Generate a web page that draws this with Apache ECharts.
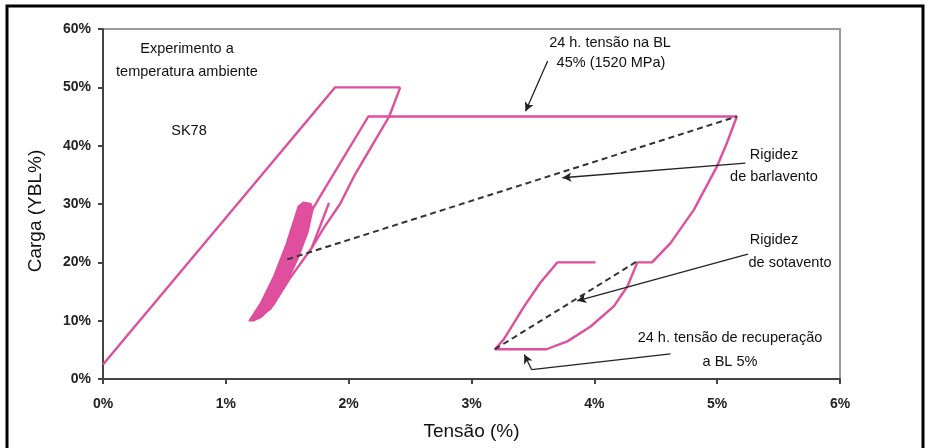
<!DOCTYPE html>
<html>
<head>
<meta charset="utf-8">
<script src="https://cdn.jsdelivr.net/npm/echarts@6/dist/echarts.min.js"></script>
<style>
  html, body { margin: 0; padding: 0; background: #fff; }
  #chart { width: 929px; height: 448px; }
</style>
</head>
<body>
<div id="chart"></div>
<script>
// ---- data (strain %, load %) ----
var xTicks = [0, 1, 2, 3, 4, 5, 6];
var yTicks = [0, 10, 20, 30, 40, 50, 60];

// first loading to 50% and hold
var firstLoad = [[0, 2.5], [1.89, 50], [2.42, 50]];
// unloading from 50% down to 10%
var firstUnload = [[2.42, 50], [2.33, 45], [2.19, 40], [2.05, 35], [1.93, 30],
                   [1.80, 26], [1.70, 22.5], [1.52, 17.2], [1.36, 12.0], [1.22, 10.2]];
// cycling 10% - 30% (dense loops, drawn as a filled outline)
var cycleBand = [[1.19, 10.0], [1.28, 12.9], [1.39, 17.6], [1.49, 23], [1.56, 27.6],
                 [1.59, 29.6], [1.63, 30.3], [1.69, 30.1], [1.71, 29.2], [1.67, 25.3],
                 [1.59, 20.8], [1.49, 16.2], [1.39, 12.7], [1.29, 10.6], [1.23, 10.0]];
// last short cycle up to 30%
var lastCycle = [[1.70, 22.5], [1.84, 30.2]];
// reload to 45%, 24 h hold, unload, recovery at 5%, reload to 20%
var reload = [[1.69, 28.5], [1.77, 31.4], [2.16, 45], [5.16, 45], [5.08, 40.5],
              [5.00, 36.5], [4.81, 29], [4.62, 23.3], [4.47, 20], [4.35, 20],
              [4.27, 15.9], [4.16, 12.5], [3.97, 9.0], [3.78, 6.45], [3.61, 5.1],
              [3.19, 5.1], [3.26, 6.7], [3.43, 12.5], [3.56, 16.5], [3.70, 20], [4.01, 20]];
// stiffness lines
var windward = [[1.50, 20.5], [5.16, 45]];
var leeward = [[3.19, 5.1], [4.35, 20.2]];
// annotation arrows (tail ... head)
var arrows = [
    [[3.62, 54.5], [3.44, 45.9]],
    [[5.23, 37.0], [3.74, 34.5]],
    [[5.25, 21.4], [3.86, 13.4]],
    [[4.62, 4.3], [3.49, 1.6], [3.43, 4.2]]
];

var pink = '#df4f9d';
var narrow = "'Liberation Sans Narrow', 'Arial Narrow', 'Liberation Sans', Arial, sans-serif";
var bold = "'Liberation Sans', Arial, sans-serif";

var chart = echarts.init(document.getElementById('chart'));

function pinkLine(data) {
    return {
        type: 'line',
        data: data,
        symbol: 'none',
        lineStyle: { color: pink, width: 2.4 },
        z: 3,
        silent: true
    };
}

function dashLine(data) {
    return {
        type: 'line',
        data: data,
        symbol: 'none',
        lineStyle: { color: '#333', width: 2, type: [6, 4] },
        z: 4,
        silent: true
    };
}

function label(text, x, y, size) {
    return {
        type: 'text',
        x: x, y: y,
        style: {
            text: text,
            fill: '#111',
            font: (size || 14.5) + 'px ' + narrow,
            textAlign: 'center',
            textVerticalAlign: 'middle'
        },
        z: 10
    };
}

// arrows -> markLine segments, arrowhead only on the last segment
var arrowSegments = [];
arrows.forEach(function (a) {
    for (var i = 0; i < a.length - 1; i++) {
        var last = i === a.length - 2;
        arrowSegments.push([
            { coord: a[i], symbol: 'none' },
            { coord: a[i + 1], symbol: last ? 'arrow' : 'none' }
        ]);
    }
});

chart.setOption({
    animation: false,
    backgroundColor: '#fff',
    grid: {
        left: 103, right: 89, top: 29, bottom: 69,
        show: true,
        borderColor: '#9a9a9a',
        borderWidth: 2
    },
    xAxis: {
        type: 'value',
        min: 0, max: 6, interval: 1,
        name: 'Tensão (%)',
        nameLocation: 'middle',
        nameGap: 43,
        nameTextStyle: { fontFamily: narrow, fontSize: 19, color: '#111' },
        axisLine: { onZero: false, lineStyle: { color: '#444', width: 2 } },
        axisTick: { show: true, length: 5, lineStyle: { color: '#444', width: 2 } },
        axisLabel: {
            margin: 18,
            formatter: function (v) { return v + '%'; },
            fontFamily: bold, fontWeight: 'bold', fontSize: 14, color: '#222'
        },
        splitLine: { show: false }
    },
    yAxis: {
        type: 'value',
        min: 0, max: 60, interval: 10,
        name: 'Carga (YBL%)',
        nameLocation: 'middle',
        nameGap: 58,
        nameTextStyle: { fontFamily: narrow, fontSize: 19, color: '#111', padding: [0, 0, 0, -14] },
        axisLine: { onZero: false, lineStyle: { color: '#444', width: 2 } },
        axisTick: { show: true, length: 5, lineStyle: { color: '#444', width: 2 } },
        axisLabel: {
            margin: 12,
            formatter: function (v) { return v + '%'; },
            fontFamily: bold, fontWeight: 'bold', fontSize: 14, color: '#222'
        },
        splitLine: { show: false }
    },
    graphic: [
        // outer black frame
        {
            type: 'rect',
            shape: { x: 7, y: 6, width: 916, height: 460 },
            style: { fill: 'none', stroke: '#000', lineWidth: 3 },
            z: 20
        },
        label('Experimento a', 187, 49),
        label('temperatura ambiente', 187, 72),
        label('SK78', 189, 131),
        label('24 h. tensão na BL', 610, 43),
        label('45% (1520 MPa)', 611, 63),
        label('Rigidez', 774, 155),
        label('de barlavento', 774, 177),
        label('Rigidez', 774, 240),
        label('de sotavento', 790, 263),
        label('24 h. tensão de recuperação', 730, 338),
        label('a BL 5%', 730, 362)
    ],
    series: [
        pinkLine(firstLoad),
        pinkLine(firstUnload),
        pinkLine(lastCycle),
        pinkLine(reload),
        {
            type: 'custom',
            data: [0],
            silent: true,
            z: 3,
            renderItem: function (params, api) {
                var pts = cycleBand.map(function (p) { return api.coord(p); });
                return {
                    type: 'polygon',
                    shape: { points: pts },
                    style: { fill: pink, stroke: pink, lineWidth: 1.5, lineJoin: 'round' }
                };
            }
        },
        dashLine(windward),
        dashLine(leeward),
        {
            type: 'line',
            data: [],
            silent: true,
            z: 5,
            markLine: {
                silent: true,
                animation: false,
                symbolSize: [7, 9],
                label: { show: false },
                lineStyle: { color: '#222', width: 1.3, type: 'solid' },
                data: arrowSegments
            }
        }
    ]
});
</script>
</body>
</html>
